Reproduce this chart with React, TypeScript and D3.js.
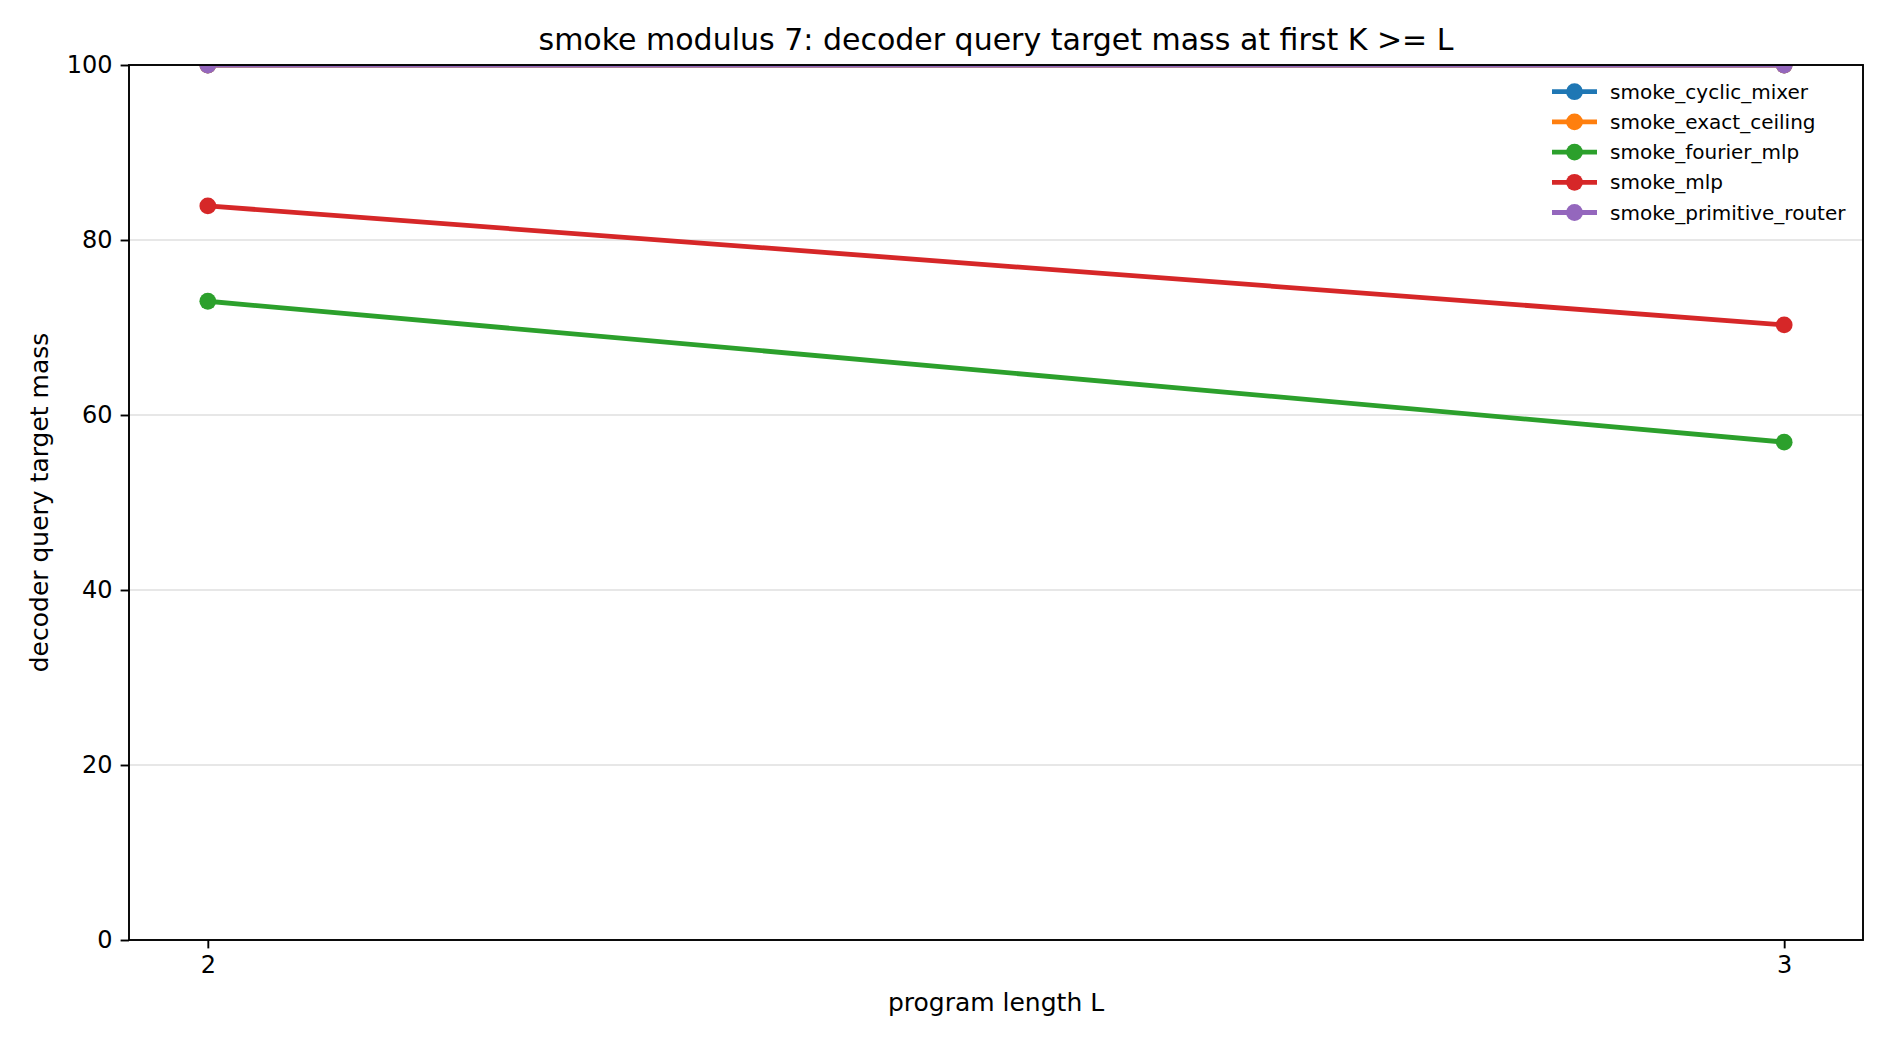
import React, { useRef, useEffect } from 'react';
import * as d3 from 'd3';

// program lengths on the x axis
const lengths = [2, 3];

const seriesNames = [
  'smoke_cyclic_mixer',
  'smoke_exact_ceiling',
  'smoke_fourier_mlp',
  'smoke_mlp',
  'smoke_primitive_router',
];

const cyclicMixer = [100, 100];
const exactCeiling = [100, 100];
const fourierMlp = [73.0, 56.9];
const mlp = [83.9, 70.3];
const primitiveRouter = [100, 100];

const seriesValues = [cyclicMixer, exactCeiling, fourierMlp, mlp, primitiveRouter];
const seriesColors = ['#1f77b4', '#ff7f0e', '#2ca02c', '#d62728', '#9467bd'];

const yTicks = [0, 20, 40, 60, 80, 100];

const W = 1890;
const H = 1044;
const FONT = '"DejaVu Sans", sans-serif';

const App: React.FC = () => {
  const svgRef = useRef<SVGSVGElement>(null);

  useEffect(() => {
    if (!svgRef.current) return;
    const margin = { top: 65, right: 27, bottom: 104, left: 129 };
    const width = W - margin.left - margin.right;
    const innerHeight = H - margin.top - margin.bottom;

    const svg = d3.select(svgRef.current);
    svg.selectAll('*').remove();

    svg.append('rect').attr('width', W).attr('height', H).attr('fill', 'white');

    const g = svg.append('g').attr('transform', `translate(${margin.left},${margin.top})`);

    // matplotlib-like 5% margins on x
    const pad = (lengths[1] - lengths[0]) * 0.05;
    const x = d3.scaleLinear()
      .domain([lengths[0] - pad, lengths[lengths.length - 1] + pad])
      .range([0, width]);
    const y = d3.scaleLinear().domain([0, 100]).range([innerHeight, 0]);

    svg.append('defs').append('clipPath').attr('id', 'plot-clip')
      .append('rect').attr('x', 0).attr('y', 0).attr('width', width).attr('height', innerHeight);

    // Grid
    g.append('g')
      .selectAll('line')
      .data(yTicks)
      .join('line')
      .attr('x1', 0)
      .attr('x2', width)
      .attr('y1', d => y(d))
      .attr('y2', d => y(d))
      .attr('stroke', '#b0b0b0')
      .attr('stroke-opacity', 0.3)
      .attr('stroke-width', 1.9);

    // Lines
    const line = d3.line<number>()
      .x((_, i) => x(lengths[i]))
      .y(d => y(d));

    const plot = g.append('g').attr('clip-path', 'url(#plot-clip)');
    seriesValues.forEach((vals, si) => {
      plot.append('path')
        .datum(vals)
        .attr('fill', 'none')
        .attr('stroke', seriesColors[si])
        .attr('stroke-width', 4.8)
        .attr('d', line);
      plot.selectAll(null)
        .data(vals)
        .join('circle')
        .attr('cx', (_, i) => x(lengths[i]))
        .attr('cy', d => y(d))
        .attr('r', 8.4)
        .attr('fill', seriesColors[si]);
    });

    // Axes
    const xAxis = d3.axisBottom(x).tickValues(lengths).tickFormat(d3.format('d'))
      .tickSize(8.4).tickPadding(8);
    const yAxis = d3.axisLeft(y).tickValues(yTicks).tickFormat(d3.format('d'))
      .tickSize(8.4).tickPadding(8);

    const gx = g.append('g').attr('transform', `translate(0,${innerHeight})`).call(xAxis);
    const gy = g.append('g').call(yAxis);
    [gx, gy].forEach(ax => {
      ax.select('.domain').remove();
      ax.selectAll('line').attr('stroke', '#000').attr('stroke-width', 1.9);
      ax.selectAll('text')
        .attr('fill', '#000')
        .style('font-family', FONT)
        .style('font-size', '24px');
    });

    // Frame
    g.append('rect')
      .attr('x', 0)
      .attr('y', 0)
      .attr('width', width)
      .attr('height', innerHeight)
      .attr('fill', 'none')
      .attr('stroke', '#000')
      .attr('stroke-width', 1.9);

    // Legend
    const legend = g.append('g').attr('transform', `translate(${width - 311},${26.7})`);
    seriesNames.forEach((name, i) => {
      const row = legend.append('g').attr('transform', `translate(0,${i * 30.2})`);
      row.append('line')
        .attr('x1', 0).attr('x2', 45)
        .attr('stroke', seriesColors[i])
        .attr('stroke-width', 4.8);
      row.append('circle').attr('cx', 22.5).attr('r', 8.4).attr('fill', seriesColors[i]);
      row.append('text')
        .attr('x', 58)
        .attr('dy', '0.35em')
        .attr('fill', '#000')
        .style('font-family', FONT)
        .style('font-size', '20px')
        .text(name);
    });

    // Title and labels
    svg.append('text')
      .attr('x', margin.left + width / 2)
      .attr('y', 50)
      .attr('text-anchor', 'middle')
      .style('font-family', FONT)
      .style('font-size', '30px')
      .text('smoke modulus 7: decoder query target mass at first K >= L');

    svg.append('text')
      .attr('x', margin.left + width / 2)
      .attr('y', 1011)
      .attr('text-anchor', 'middle')
      .style('font-family', FONT)
      .style('font-size', '25px')
      .text('program length L');

    svg.append('text')
      .attr('transform', `translate(48,${margin.top + innerHeight / 2}) rotate(-90)`)
      .attr('text-anchor', 'middle')
      .style('font-family', FONT)
      .style('font-size', '25px')
      .text('decoder query target mass');
  }, []);

  return (
    <div style={{ position: 'absolute', left: 0, top: 0 }}>
      <svg ref={svgRef} width={W} height={H} style={{ display: 'block' }}></svg>
    </div>
  );
};

export default App;
